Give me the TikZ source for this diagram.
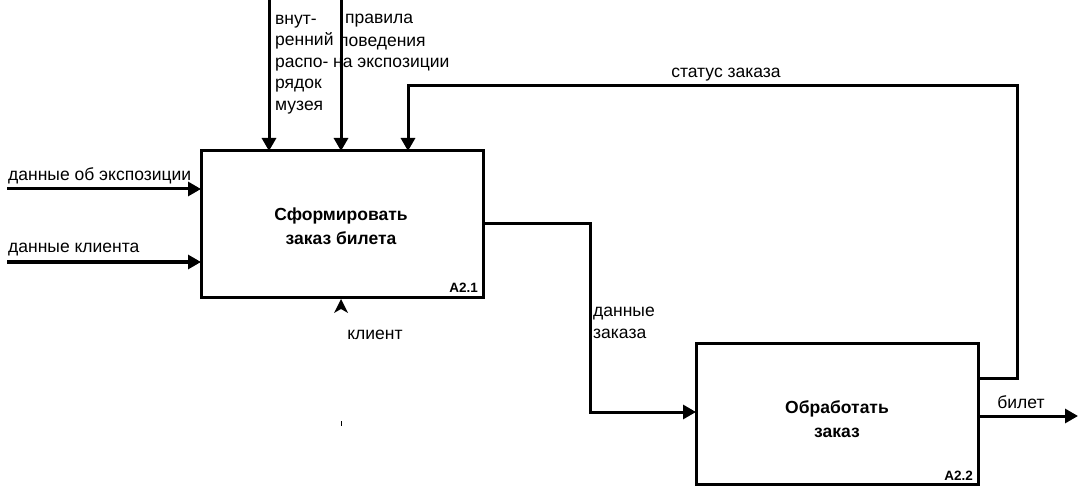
\documentclass[tikz,border=0pt]{standalone}
\usepackage{fontspec}
\setmainfont{Liberation Sans}
\usetikzlibrary{arrows.meta}
\begin{document}
\begin{tikzpicture}[x=1pt,y=-1pt,
  func/.style={draw,line width=3pt,fill=white},
  flow/.style={line width=3pt,-{Triangle[length=13pt,width=14pt]}},
  lbl/.style={font=\fontsize{17.5}{21.5}\selectfont,inner sep=0pt},
  fname/.style={font=\bfseries\fontsize{17.5}{24}\selectfont,align=center,inner sep=0pt},
  fnum/.style={font=\bfseries\fontsize{13.5}{15}\selectfont,inner sep=0pt,anchor=south east}]
\useasboundingbox (0,0) rectangle (1078,486);

% activity boxes
\draw[func] (201,151) rectangle (483,297);
\draw[func] (696,343) rectangle (978,484);
\node[fname] (t1) at (341,226) {Сформировать\\заказ билета};
\node[fname] (t2) at (837,419) {Обработать\\заказ};
\node[fnum] (n1) at (478,293) {A2.1};
\node[fnum] (n2) at (973,481) {A2.2};

% control labels
\node[lbl,anchor=north west,align=left] (lc1) at (275,15) {внут-\\ренний\\распо-\\рядок\\музея};
\node[lbl,anchor=base west] (lc2a) at (345,24) {правила};
\node[lbl,anchor=base west] (lc2b) at (339,47) {поведения};
\node[lbl,anchor=base west] (lc2c) at (333,68) {на экспозиции};

% controls from above
\coordinate (c1s) at (269,0);
\coordinate (c1e) at (269,151);
\coordinate (c2s) at (341,0);
\coordinate (c2e) at (341,151);
\draw[flow] (c1s) -- (c1e);
\draw[flow] (c2s) -- (c2e);

% feedback loop: order status
\coordinate (s0) at (978,378);
\coordinate (s1) at (1017,378);
\coordinate (s2) at (1017,86);
\coordinate (s3) at (408,86);
\coordinate (s4) at (408,151);
\draw[flow] (s0) -- (s1) -- (s2) -- (s3) -- (s4);
\node[lbl] (ls) at (726,75) {статус заказа};

% inputs
\coordinate (i1s) at (7,189);
\coordinate (i1e) at (201,189);
\coordinate (i2s) at (7,262);
\coordinate (i2e) at (201,262);
\draw[flow] (i1s) -- (i1e);
\draw[flow] (i2s) -- (i2e);
\node[lbl,anchor=south west] (li1) at (8,184) {данные об экспозиции};
\node[lbl,anchor=south west] (li2) at (8,256) {данные клиента};

% mechanism (arrow tip only)
\fill (341,299) -- (348,313) -- (341,309) -- (334,313) -- cycle;
\node[lbl] (lm) at (375,335) {клиент};
\fill (340.5,421) rectangle (341.7,426);

% order data
\coordinate (o0) at (483,224);
\coordinate (o1) at (590,224);
\coordinate (o2) at (590,412);
\coordinate (o3) at (696,412);
\draw[flow] (o0) -- (o1) -- (o2) -- (o3);
\node[lbl,anchor=north west,align=left] (lo) at (593,307) {данные\\заказа};

% output ticket
\coordinate (t0) at (978,416);
\coordinate (t3) at (1078,416);
\draw[flow] (t0) -- (t3);
\node[lbl] (lt) at (1021,402) {билет};
\end{tikzpicture}
\end{document}
